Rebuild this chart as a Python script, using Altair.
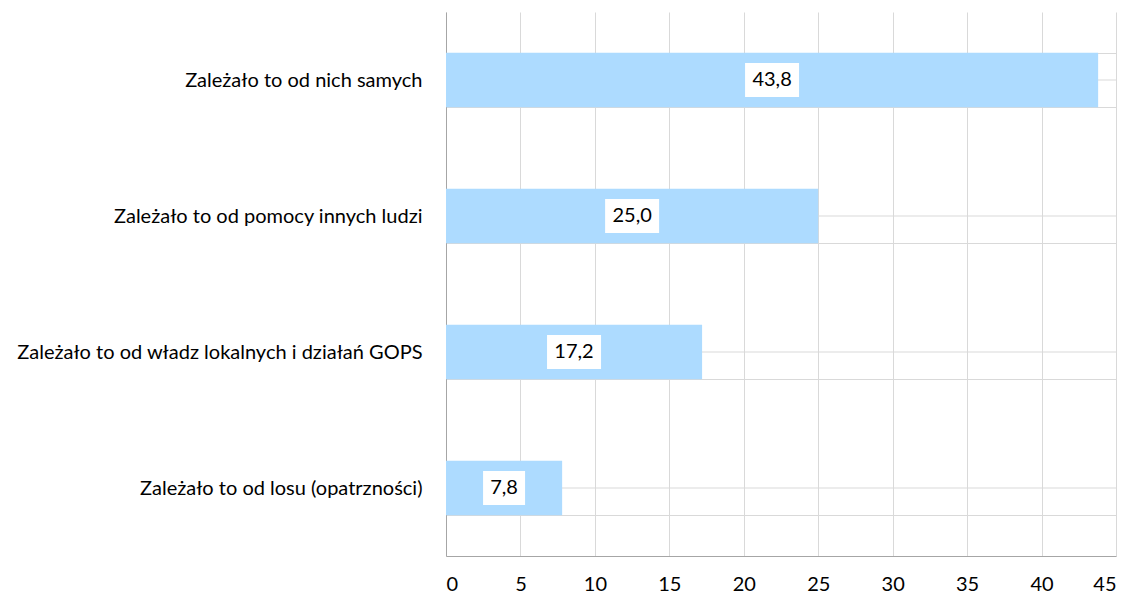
import altair as alt
import pandas as pd

categories = [
    "Zależało to od nich samych",
    "Zależało to od pomocy innych ludzi",
    "Zależało to od władz lokalnych i działań GOPS",
    "Zależało to od losu (opatrzności)",
]
values = [43.8, 25.0, 17.2, 7.8]
x_ticks = [0, 5, 10, 15, 20, 25, 30, 35, 40, 45]

df = pd.DataFrame({"category": categories, "value": values})

FONT = "Lato"
GRID = "#d9d9d9"
BAR = "#ADDBFF"
W, H = 670, 544

y_enc = alt.Y(
    "category:N",
    sort=categories,
    scale=alt.Scale(paddingInner=0.6, paddingOuter=0.3),
    axis=alt.Axis(
        title=None, tickBand="extent", grid=True, gridColor=GRID, gridWidth=1,
        ticks=False, domainColor="#a6a6a6", labelFont=FONT, labelFontSize=20,
        labelColor="#000000", labelPadding=24, labelLimit=600,
    ),
)
x_enc = alt.X(
    "value:Q",
    scale=alt.Scale(domain=[0, 45], nice=False),
    axis=alt.Axis(
        values=x_ticks, title=None, grid=True, gridColor=GRID, gridWidth=1,
        ticks=False, domainColor="#a6a6a6", labelFont=FONT, labelFontSize=20,
        labelColor="#000000", labelPadding=18,
    ),
)

base = alt.Chart(df)

center_rules = base.mark_rule(color=GRID, strokeWidth=1).encode(
    y=y_enc, x=alt.datum(0), x2=alt.datum(45)
)
bars = base.mark_bar(color=BAR).encode(y=y_enc, x=x_enc)

lab = base.transform_calculate(
    mid="datum.value / 2",
    lbl="replace(format(datum.value, '.1f'), '.', ',')",
)
boxes = lab.mark_rect(
    color="white", height=34, width=alt.ExprRef("length(datum.lbl) * 12 + 6")
).encode(x="mid:Q", y=y_enc)
texts = lab.mark_text(font=FONT, fontSize=20, color="#000000").encode(
    x="mid:Q", y=y_enc, text="lbl:N"
)

chart = (
    alt.layer(center_rules, bars, boxes, texts)
    .properties(
        width=W, height=H,
        autosize=alt.AutoSizeParams(type="none"),
        padding={"left": 438, "top": 4, "right": 6, "bottom": 42},
    )
    .configure_view(stroke="transparent")
)

chart.save("out.html", embed_options={"renderer": "svg", "actions": False})
